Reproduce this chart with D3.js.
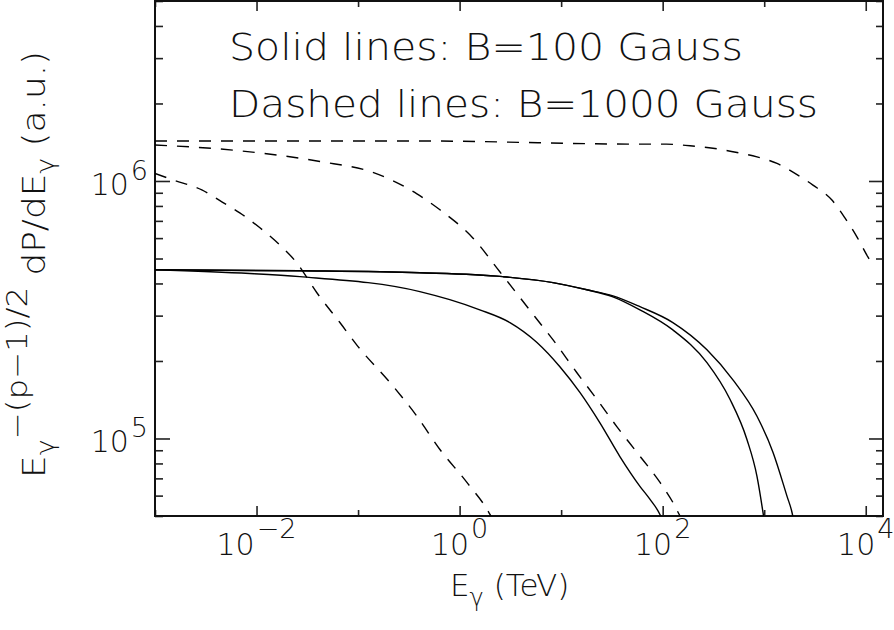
<!DOCTYPE html>
<html>
<head>
<meta charset="utf-8">
<script src="https://cdn.jsdelivr.net/npm/d3@7"></script>
<style>
  body { margin: 0; background: #fff; }
  svg { display: block; }
  text { font-family: 'DejaVu Sans', sans-serif; font-weight: 200; fill: #111; }
</style>
</head>
<body>
<div id="chart"></div>
<script>
// energies in TeV, powers in arbitrary units
const solid1E = [0.001, 0.00859, 0.0267, 0.406, 0.80, 1.58, 3.13, 5.78, 9.72, 15.3, 24.1, 37.9, 59.7, 74.8, 94.0, 100];
const solid1P = [4.52e5, 4.37e5, 4.25e5, 3.72e5, 3.46e5, 3.16e5, 2.82e5, 2.36e5, 1.90e5, 1.51e5, 1.15e5, 8.51e4, 6.52e4, 5.81e4, 5.07e4, 4.8e4];

const solid2E = [0.001, 0.0267, 0.406, 2.67, 8.30, 17.9, 32.4, 59.7, 126, 273, 460, 676, 849, 973, 1000];
const solid2P = [4.52e5, 4.48e5, 4.40e5, 4.25e5, 4.03e5, 3.78e5, 3.55e5, 3.16e5, 2.64e5, 1.97e5, 1.42e5, 9.91e4, 7.13e4, 5.16e4, 4.8e4];

const solid3E = [0.001, 0.0267, 0.406, 2.67, 8.30, 17.9, 32.4, 59.7, 126, 273, 492, 849, 1222, 1679, 1879, 1950];
const solid3P = [4.52e5, 4.48e5, 4.40e5, 4.25e5, 4.03e5, 3.78e5, 3.58e5, 3.25e5, 2.82e5, 2.21e5, 1.69e5, 1.22e5, 8.83e4, 5.96e4, 5.16e4, 4.8e4];

const dash1E = [0.001, 0.406, 59.4, 109, 186, 313, 540, 849, 1337, 2009, 3020, 4645, 6237, 8185, 10500, 11480];
const dash1P = [1.43e6, 1.43e6, 1.39e6, 1.39e6, 1.37e6, 1.34e6, 1.29e6, 1.24e6, 1.17e6, 1.07e6, 9.64e5, 8.43e5, 7.19e5, 6.07e5, 5.07e5, 4.79e5];

const dash2E = [0.001, 0.00684, 0.0421, 0.140, 0.380, 0.640, 1.35, 2.49, 5.52, 8.30, 14.3, 22.5, 35.5, 55.8, 94.2, 126, 148, 158];
const dash2P = [1.38e6, 1.31e6, 1.19e6, 1.08e6, 8.91e5, 7.73e5, 6.01e5, 4.44e5, 2.97e5, 2.42e5, 1.80e5, 1.42e5, 1.11e5, 8.83e4, 6.75e4, 5.65e4, 5.01e4, 4.8e4];

const dash3E = [0.001, 0.0015, 0.00289, 0.00455, 0.00684, 0.0108, 0.0169, 0.0249, 0.0393, 0.0662, 0.0995, 0.206, 0.380, 0.640, 1.18, 1.99, 2.14];
const dash3P = [1.07e6, 1.01e6, 9.23e5, 8.30e5, 7.52e5, 6.58e5, 5.65e5, 4.81e5, 3.68e5, 2.82e5, 2.28e5, 1.65e5, 1.22e5, 9.06e4, 6.75e4, 5.07e4, 4.8e4];

const xTicks = [1e-3, 1e-2, 1e-1, 1e0, 1e1, 1e2, 1e3, 1e4];
const xLabels = [[1e-2, '−2'], [1e0, '0'], [1e2, '2'], [1e4, '4']];
const yLabels = [[1e6, '6'], [1e5, '5']];
const legendLines = ['Solid lines: B=100 Gauss', 'Dashed lines: B=1000 Gauss'];

const width = 894, height = 630;
const plotL = 155, plotR = 883, plotT = 1, plotB = 516;

const svg = d3.select('#chart').append('svg').attr('width', width).attr('height', height);

const x = d3.scaleLog().domain([1e-3, Math.pow(10, 4.17)]).range([plotL, plotR]);
const y = d3.scaleLog().domain([5e4, 5e6]).range([plotB, plotT]);

// minor ticks on y: 1..9 x each decade
const yMinor = [];
[1e4, 1e5, 1e6].forEach((d) => {
    for (let k = 1; k < 10; k++) {
        const v = d * k;
        if (v >= 5e4 && v <= 5e6 && v !== 1e5 && v !== 1e6) yMinor.push(v);
    }
});
const xMajor = xLabels.map((d) => d[0]);
const xMinor = xTicks.filter((v) => !xMajor.includes(v));

const tickStyle = (g) => {
    g.select('.domain').remove();
    g.selectAll('line').attr('stroke', '#222').attr('stroke-width', 1.6);
    g.selectAll('text').remove();
};

// bottom / top ticks (drawn inward)
svg.append('g').attr('transform', `translate(0,${plotB})`)
    .call(d3.axisBottom(x).tickValues(xMajor).tickSize(-10).tickSizeOuter(0)).call(tickStyle);
svg.append('g').attr('transform', `translate(0,${plotB})`)
    .call(d3.axisBottom(x).tickValues(xMinor).tickSize(-6).tickSizeOuter(0)).call(tickStyle);
svg.append('g').attr('transform', `translate(0,${plotT})`)
    .call(d3.axisTop(x).tickValues(xMajor).tickSize(-10).tickSizeOuter(0)).call(tickStyle);
svg.append('g').attr('transform', `translate(0,${plotT})`)
    .call(d3.axisTop(x).tickValues(xMinor).tickSize(-6).tickSizeOuter(0)).call(tickStyle);

// left / right ticks
svg.append('g').attr('transform', `translate(${plotL},0)`)
    .call(d3.axisLeft(y).tickValues([1e5, 1e6]).tickSize(-15).tickSizeOuter(0)).call(tickStyle);
svg.append('g').attr('transform', `translate(${plotL},0)`)
    .call(d3.axisLeft(y).tickValues(yMinor).tickSize(-8).tickSizeOuter(0)).call(tickStyle);
svg.append('g').attr('transform', `translate(${plotR},0)`)
    .call(d3.axisRight(y).tickValues([1e5, 1e6]).tickSize(-14).tickSizeOuter(0)).call(tickStyle);
svg.append('g').attr('transform', `translate(${plotR},0)`)
    .call(d3.axisRight(y).tickValues(yMinor).tickSize(-7).tickSizeOuter(0)).call(tickStyle);

// frame
svg.append('rect')
    .attr('x', plotL).attr('y', plotT)
    .attr('width', plotR - plotL).attr('height', plotB - plotT)
    .attr('fill', 'none').attr('stroke', '#111').attr('stroke-width', 2);

// curves
svg.append('clipPath').attr('id', 'plot-clip')
    .append('rect').attr('x', plotL).attr('y', plotT).attr('width', plotR - plotL).attr('height', plotB - plotT);

const line = d3.line().curve(d3.curveMonotoneX).x((d) => x(d[0])).y((d) => y(d[1]));
const series = [
    { e: solid1E, p: solid1P, dash: null },
    { e: solid2E, p: solid2P, dash: null },
    { e: solid3E, p: solid3P, dash: null },
    { e: dash1E, p: dash1P, dash: '12,10' },
    { e: dash2E, p: dash2P, dash: '12,10' },
    { e: dash3E, p: dash3P, dash: '12,10' }
];
svg.append('g').attr('clip-path', 'url(#plot-clip)')
    .selectAll('path')
    .data(series)
    .enter()
    .append('path')
    .attr('d', (s) => line(d3.zip(s.e, s.p)))
    .attr('fill', 'none')
    .attr('stroke', '#000')
    .attr('stroke-width', 1.4)
    .attr('stroke-dasharray', (s) => s.dash);

// tick labels
xLabels.forEach(([v, ex]) => {
    const t = svg.append('text').attr('x', x(v)).attr('y', 555)
        .attr('text-anchor', 'middle').style('font-size', '30px');
    t.append('tspan').text('10');
    t.append('tspan').attr('dx', 2).attr('dy', -17).style('font-size', '27px').text(ex);
});
yLabels.forEach(([v, ex]) => {
    const t = svg.append('text').attr('x', 148).attr('y', y(v) + 14)
        .attr('text-anchor', 'end').style('font-size', '30px');
    t.append('tspan').text('10');
    t.append('tspan').attr('dx', 2).attr('dy', -15).style('font-size', '27px').text(ex);
});

// axis titles
const xt = svg.append('text').attr('x', 450).attr('y', 596).style('font-size', '31px');
xt.append('tspan').text('E');
xt.append('tspan').attr('dy', 10).style('font-size', '24px').text('γ');
xt.append('tspan').attr('dy', -10).text(' (TeV)');

const yt = svg.append('text')
    .attr('transform', 'translate(45,478) rotate(-90) scale(1.12,1)')
    .style('font-size', '32px');
yt.append('tspan').text('E');
yt.append('tspan').attr('dy', 9).style('font-size', '24px').text('γ');
yt.append('tspan').attr('dy', -27).style('font-size', '29px').text('−(p−1)/2');
yt.append('tspan').attr('dy', 18).text(' dP/dE');
yt.append('tspan').attr('dy', 9).style('font-size', '24px').text('γ');
yt.append('tspan').attr('dy', -9).text(' (a.u.)');

// legend text
const legendWidths = [514, 589];
legendLines.forEach((s, i) => {
    svg.append('text').attr('x', 229).attr('y', 60 + i * 57)
        .attr('textLength', legendWidths[i]).attr('lengthAdjust', 'spacingAndGlyphs')
        .style('font-size', '38px').text(s);
});
</script>
</body>
</html>
